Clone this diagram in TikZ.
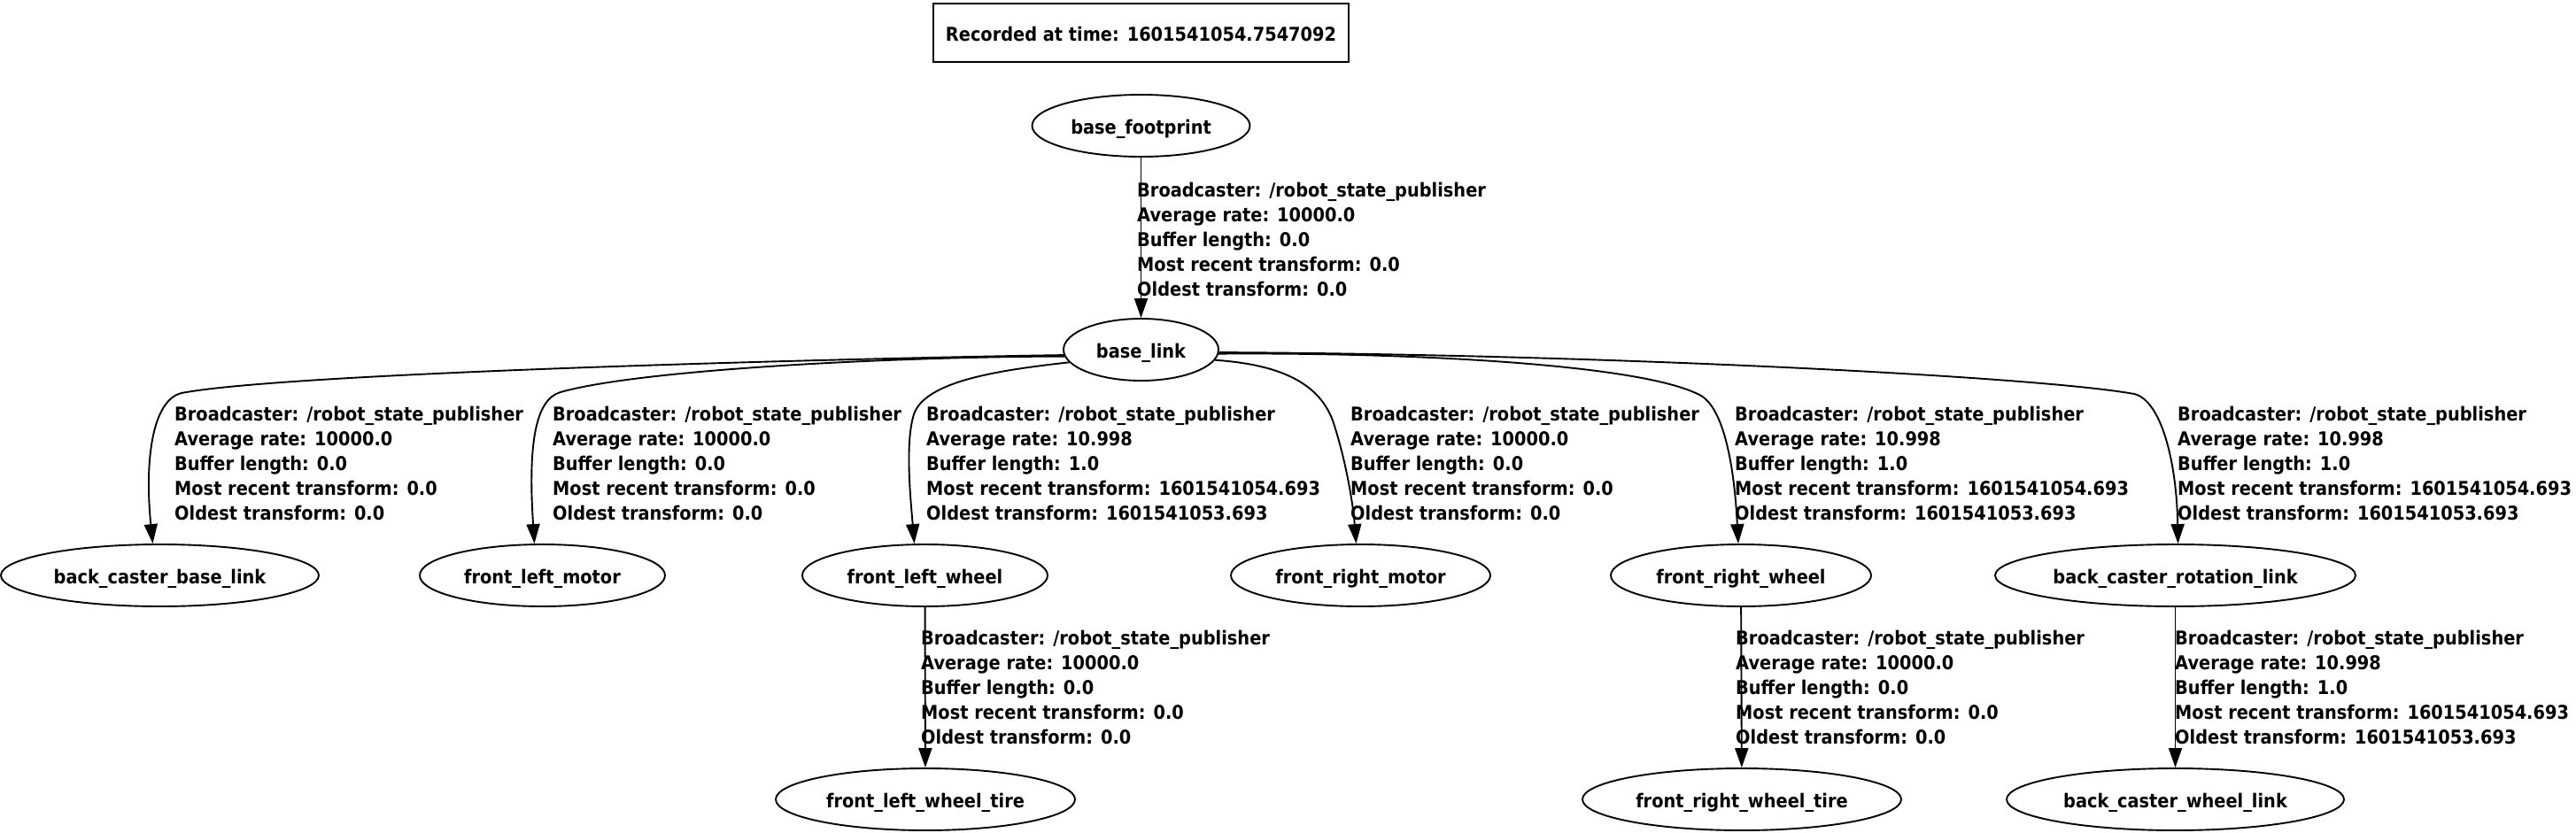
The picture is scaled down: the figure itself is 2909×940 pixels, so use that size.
\documentclass[tikz,border=0pt]{standalone}
\usepackage{fontspec}
\setmainfont{DejaVu Sans}[FakeStretch=0.9]
\usetikzlibrary{shapes.geometric,arrows.meta}
\newcommand\lblfont{\fontsize{21.5}{28}\selectfont\bfseries}
\newcommand\nl[1]{\makebox[0pt]{#1}}
\newcommand\lzero{\rule{0pt}{17pt}Broadcaster: /robot\_state\_publisher\\Average rate: 10000.0\\Buffer length: 0.0\\Most recent transform: 0.0\\Oldest transform: 0.0}
\newcommand\lten{\rule{0pt}{17pt}Broadcaster: /robot\_state\_publisher\\Average rate: 10.998\\Buffer length: 1.0\\Most recent transform: 1601541054.693\\Oldest transform: 1601541053.693}
\tikzset{
  frame/.style={ellipse, draw, line width=1.9pt, inner sep=0pt, minimum height=70pt,
    text height=18pt, text depth=0pt, font=\lblfont},
  recbox/.style={rectangle, draw, line width=1.9pt, inner sep=0pt, font=\lblfont},
  edge/.style={draw, line width=1.9pt, -{Triangle[length=22pt,width=15pt]}},
  lbl/.style={anchor=north west, inner sep=0pt, align=left, font=\lblfont},
}
\begin{document}
\begin{tikzpicture}[x=1pt,y=-1pt]
\useasboundingbox (0,0) rectangle (2909,940);
% record box
\node[recbox, minimum width=469pt, minimum height=66pt, text height=18pt, text depth=0pt] (rec) at (1288.5,37) {Recorded at time: 1601541054.7547092};
% nodes
\node[frame, minimum width=246pt] (bf) at (1288.5,142) {\nl{base\_footprint}};
\node[frame, minimum width=175pt] (bl) at (1288.5,395) {\nl{base\_link}};
\node[frame, minimum width=359pt] (bcbl) at (180.5,650) {\nl{back\_caster\_base\_link}};
\node[frame, minimum width=277pt] (flm) at (612.5,650) {\nl{front\_left\_motor}};
\node[frame, minimum width=277pt] (flw) at (1044.5,650) {\nl{front\_left\_wheel}};
\node[frame, minimum width=293pt] (frm) at (1536.5,650) {\nl{front\_right\_motor}};
\node[frame, minimum width=294pt] (frw) at (1966,650) {\nl{front\_right\_wheel}};
\node[frame, minimum width=407pt] (bcrl) at (2456.5,650) {\nl{back\_caster\_rotation\_link}};
\node[frame, minimum width=338pt] (flwt) at (1045,903) {\nl{front\_left\_wheel\_tire}};
\node[frame, minimum width=360pt] (frwt) at (1967,903) {\nl{front\_right\_wheel\_tire}};
\node[frame, minimum width=381pt] (bcwl) at (2456.5,903) {\nl{back\_caster\_wheel\_link}};
% edges
\draw[edge] (bf) -- (bl);
\draw[edge] (bl.184) .. controls (1000,404) and (330,420) .. (205,444)
  .. controls (172,452) and (163,520) .. ([xshift=-8pt]bcbl.north);
\draw[edge] (bl.185) .. controls (1000,403) and (720,418) .. (633,443)
  .. controls (605,451) and (596,500) .. ([xshift=-9pt]flm.north);
\draw[edge] (bl.190) .. controls (1130,418) and (1045,430) .. (1032,468)
  .. controls (1022,500) and (1028,560) .. ([xshift=-12pt]flw.north);
\draw[edge] (bl.-8) .. controls (1450,412) and (1490,435) .. (1505,475)
  .. controls (1520,520) and (1528,570) .. ([xshift=-5pt]frm.north);
\draw[edge] (bl.-3) .. controls (1600,398) and (1850,412) .. (1917,445)
  .. controls (1945,456) and (1958,520) .. ([xshift=-3pt]frw.north);
\draw[edge] (bl.-2) .. controls (1800,400) and (2300,425) .. (2410,445)
  .. controls (2440,452) and (2458,520) .. ([xshift=3pt]bcrl.north);
\draw[edge] (flw) -- (flwt);
\draw[edge] (frw) -- (frwt);
\draw[edge] (bcrl) -- (bcwl);
% labels
\node[lbl] (l1) at (1284,205) {\lzero};
\node[lbl] (l2) at (197,458) {\lzero};
\node[lbl] (l3) at (624,458) {\lzero};
\node[lbl] (l4) at (1046,458) {\lten};
\node[lbl] (l5) at (1525,458) {\lzero};
\node[lbl] (l6) at (1959,458) {\lten};
\node[lbl] (l7) at (2459,458) {\lten};
\node[lbl] (l8) at (1040,711) {\lzero};
\node[lbl] (l9) at (1960,711) {\lzero};
\node[lbl] (l10) at (2456,711) {\lten};
\end{tikzpicture}
\end{document}
